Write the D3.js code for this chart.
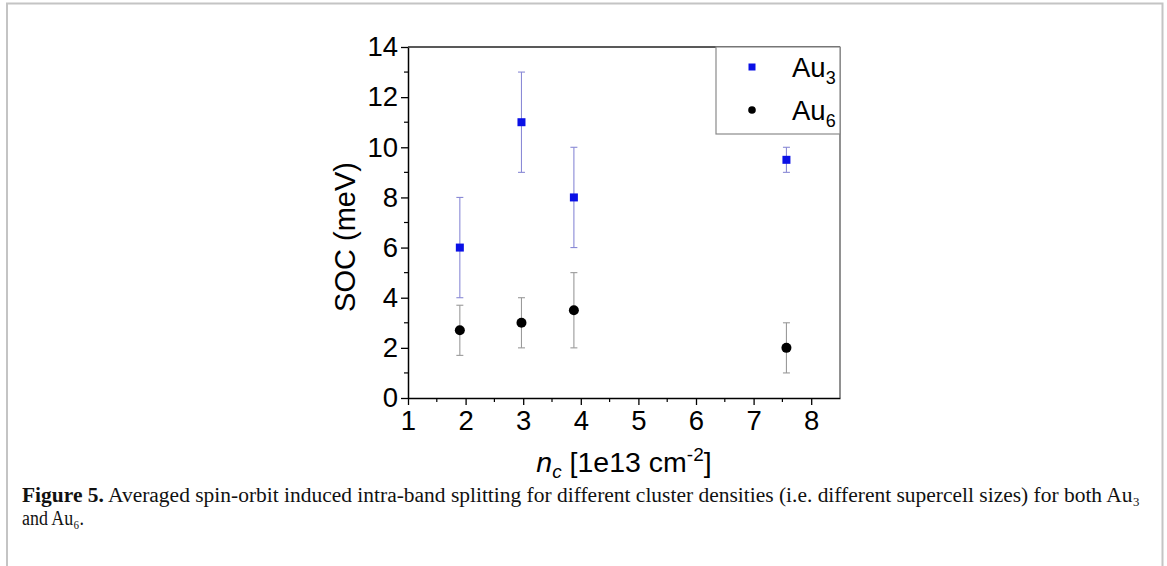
<!DOCTYPE html>
<html><head><meta charset="utf-8">
<script src="https://cdn.jsdelivr.net/npm/d3@7"></script>
<style>body{margin:0;background:#fff}svg{display:block}</style>
</head><body>
<script>
const au3X = [1.9, 2.97, 3.88, 7.57];
const au3Y = [6, 11, 8, 9.5];
const au3Err = [2, 2, 2, 0.5];
const au6X = [1.9, 2.97, 3.88, 7.57];
const au6Y = [2.7, 3, 3.5, 2];
const au6Err = [1, 1, 1.5, 1];
const xTicks = [1, 2, 3, 4, 5, 6, 7, 8];
const yTicks = [0, 2, 4, 6, 8, 10, 12, 14];
const seriesNames = ["Au3", "Au6"];

const W = 1167, H = 566;
const svg = d3.select("body").append("svg").attr("width", W).attr("height", H);

// outer frame
svg.append("path").attr("d", `M7,${H} V3.5 H1162.5 V${H}`).attr("fill","none").attr("stroke","#c4c4c4").attr("stroke-width",2);

const L = 408, R = 840, T = 47, B = 398;
const x = d3.scaleLinear().domain([1, 8.5]).range([L, R]);
const y = d3.scaleLinear().domain([0, 14]).range([B, T]);

const sans = "Liberation Sans, Arial, sans-serif";

// minor ticks
const xMinor = d3.range(1.5, 8.5, 1);
const yMinor = d3.range(1, 14, 2);
svg.append("g").selectAll("line").data(xMinor).join("line")
  .attr("x1", d=>x(d)).attr("x2", d=>x(d)).attr("y1", B).attr("y2", B+4)
  .attr("stroke","#000").attr("stroke-width",1.2);
svg.append("g").selectAll("line").data(yMinor).join("line")
  .attr("y1", d=>y(d)).attr("y2", d=>y(d)).attr("x1", L).attr("x2", L-4)
  .attr("stroke","#000").attr("stroke-width",1.2);

const xAxis = svg.append("g").attr("transform",`translate(0,${B})`)
  .call(d3.axisBottom(x).tickValues(xTicks).tickSize(7).tickPadding(5).tickSizeOuter(0));
const yAxis = svg.append("g").attr("transform",`translate(${L},0)`)
  .call(d3.axisLeft(y).tickValues(yTicks).tickSize(7).tickPadding(3).tickSizeOuter(0));
[xAxis, yAxis].forEach(g=>{
  g.selectAll("text").attr("font-family", sans).attr("font-size", 27.5).attr("fill","#000");
  g.selectAll("line").attr("stroke","#000").attr("stroke-width",1.3);
  g.select(".domain").attr("stroke","#000").attr("stroke-width",1.5);
});
// top and right frame
svg.append("line").attr("x1",L).attr("x2",R).attr("y1",T).attr("y2",T).attr("stroke","#222").attr("stroke-width",1.5);
svg.append("line").attr("x1",R).attr("x2",R).attr("y1",T).attr("y2",B).attr("stroke","#555").attr("stroke-width",1.3);

// error bars
function errBars(xs, ys, es, color){
  const g = svg.append("g").attr("stroke", color).attr("stroke-width", 1.1);
  xs.forEach((xv,i)=>{
    const cx = x(xv), y1 = y(ys[i]-es[i]), y2 = y(ys[i]+es[i]);
    g.append("line").attr("x1",cx).attr("x2",cx).attr("y1",y1).attr("y2",y2);
    g.append("line").attr("x1",cx-3.5).attr("x2",cx+3.5).attr("y1",y1).attr("y2",y1);
    g.append("line").attr("x1",cx-3.5).attr("x2",cx+3.5).attr("y1",y2).attr("y2",y2);
  });
}
errBars(au3X, au3Y, au3Err, "#8a8ad6");
errBars(au6X, au6Y, au6Err, "#9a9a9a");

svg.append("g").selectAll("rect").data(au3X).join("rect")
  .attr("x",(d)=>x(d)-4).attr("y",(d,i)=>y(au3Y[i])-4).attr("width",8).attr("height",8).attr("fill","#0a10e6");
svg.append("g").selectAll("circle").data(au6X).join("circle")
  .attr("cx",d=>x(d)).attr("cy",(d,i)=>y(au6Y[i])).attr("r",5).attr("fill","#000");

// legend
svg.append("rect").attr("x",716).attr("y",T).attr("width",R-716).attr("height",87)
  .attr("fill","#fff").attr("stroke","#8a8a8a").attr("stroke-width",1.2);
svg.append("rect").attr("x",752-3.5).attr("y",67-3.5).attr("width",7).attr("height",7).attr("fill","#0a10e6");
svg.append("circle").attr("cx",752).attr("cy",110).attr("r",3.8).attr("fill","#000");
[[seriesNames[0], 77], [seriesNames[1], 120]].forEach(([name, by])=>{
  const t = svg.append("text").attr("x",792).attr("y",by).attr("font-family",sans).attr("font-size",27.5).attr("fill","#000");
  t.append("tspan").text(name.slice(0,2));
  t.append("tspan").attr("font-size",18).attr("dy",7).text(name.slice(2));
});

// axis titles
svg.append("text").attr("transform",`translate(355,237) rotate(-90)`).attr("text-anchor","middle")
  .attr("font-family",sans).attr("font-size",29).attr("fill","#000").text("SOC (meV)");
const xt = svg.append("text").attr("x",624).attr("y",472).attr("text-anchor","middle")
  .attr("font-family",sans).attr("font-size",28.5).attr("fill","#000");
xt.append("tspan").attr("font-style","italic").text("n");
xt.append("tspan").attr("font-style","italic").attr("font-size",19).attr("dy",6).text("c");
xt.append("tspan").attr("dy",-6).text(" [1e13 cm");
xt.append("tspan").attr("font-size",19).attr("dy",-11).text("-2");
xt.append("tspan").attr("dy",11).text("]");

// caption
const serif = "Liberation Serif, 'Times New Roman', serif";
const c1 = svg.append("text").attr("x",22).attr("y",502).attr("font-family",serif).attr("font-size",20)
  .attr("fill","#111").attr("textLength",1118).attr("lengthAdjust","spacingAndGlyphs");
c1.append("tspan").attr("font-weight","bold").text("Figure 5.");
c1.append("tspan").text(" Averaged spin-orbit induced intra-band splitting for different cluster densities (i.e. different supercell sizes) for both Au₃");
const c2 = svg.append("text").attr("x",22).attr("y",525).attr("font-family",serif).attr("font-size",20)
  .attr("fill","#111").attr("textLength",62).attr("lengthAdjust","spacingAndGlyphs");
c2.append("tspan").text("and Au₆.");
</script>
</body></html>
